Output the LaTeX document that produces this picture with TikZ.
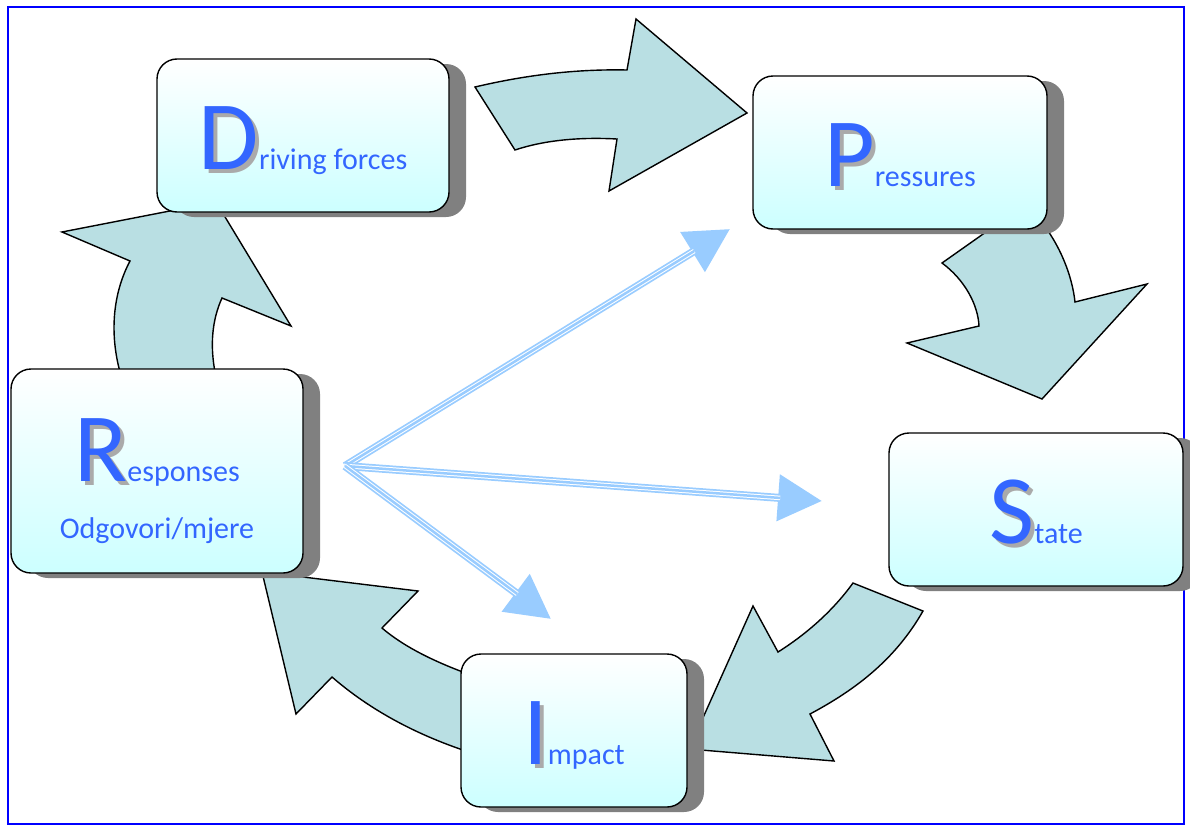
\documentclass[tikz,border=0pt]{standalone}
\usepackage{fontspec}
\setmainfont{Carlito}
\usetikzlibrary{arrows.meta, shadows}

\definecolor{arrowfill}{RGB}{185,223,227}
\definecolor{boxcyan}{RGB}{204,255,255}
\definecolor{boxshadow}{RGB}{128,128,128}
\definecolor{letterblue}{RGB}{51,102,255}
\definecolor{lettershade}{RGB}{170,170,170}
\definecolor{linkblue}{RGB}{153,204,255}

\newcommand{\firstletter}[1]{{\fontsize{98}{100}\selectfont\makebox[0pt][l]{\kern4pt\raisebox{-4pt}{\color{lettershade}#1}}\color{letterblue}#1}}
\newcommand{\restword}[1]{{\color{letterblue}#1}}

\tikzset{
    blockarrow/.style={fill=arrowfill, draw=black, line width=1.4pt, line join=miter},
    tripleline/.style={draw=linkblue, line width=8pt, -{Triangle[length=44pt, width=45pt]},
        postaction={draw=white, line width=4.5pt, shorten >=42pt, -},
        postaction={draw=linkblue, line width=2.5pt, shorten >=42pt, -}}
}

\begin{document}
\begin{tikzpicture}[x=1pt, y=-1pt]
\useasboundingbox (0,0) rectangle (1190,827);
\draw [blue, line width=1.8pt] (8,7) rectangle (1184,824);

% % block arrows of the cycle
\path [blockarrow] (475,87) .. controls (530,74) and (580,69) .. (627,70) -- (636,19) -- (747,113)
    -- (609,191) -- (617,139) .. controls (580,137) and (545,140) .. (515,150) -- cycle;
\path [blockarrow] (1040,220) .. controls (1060,245) and (1072,275) .. (1075,302) -- (1147,284) -- (1042,399)
    -- (907,343) -- (979,326) .. controls (978,305) and (965,280) .. (942,263) -- (1003,220) -- cycle;
\path [blockarrow] (853,583) -- (923,611) .. controls (895,660) and (855,690) .. (810,714) -- (834,761)
    -- (689,749) -- (753,606) -- (778,652) .. controls (805,635) and (832,612) .. (853,583) -- cycle;
\path [blockarrow] (485,680) .. controls (450,668) and (410,652) .. (382,628) -- (418,591) -- (262,572)
    -- (296,714) -- (332,677) .. controls (370,710) and (420,738) .. (485,757) -- cycle;
\path [blockarrow] (120,372) .. controls (110,335) and (112,295) .. (130,261) -- (62,232) -- (216,202)
    -- (291,326) -- (222,298) .. controls (212,320) and (210,345) .. (215,372) -- cycle;

\begin{scope}[
    every node/.style={rounded corners=20pt, draw=black, line width=1.4pt,
        top color=white, bottom color=boxcyan, minimum height=153pt, inner sep=0pt,
        drop shadow={shadow xshift=17pt, shadow yshift=-5pt, fill=boxshadow, opacity=1},
        font=\fontsize{30}{36}\selectfont, text height=68pt, text depth=0pt}]
    \node (D) at (303,135.5) [minimum width=292pt] {\firstletter{D}\restword{riving forces}};

    \node (P) at (900,152.5) [minimum width=294pt] {\firstletter{P}\restword{ressures}};

    \node (S) at (1036,509.5) [minimum width=294pt] {\firstletter{S}\restword{tate}};

    \node (I) at (574,730.5) [minimum width=226pt] {\firstletter{I}\restword{mpact}};

    % % the responses box is taller
    \node (R) at (157,471) [minimum width=292pt, minimum height=204pt, align=center, text height=134pt]
        {\firstletter{R}\restword{esponses}\\[21pt]\restword{Odgovori/mjere}};
\end{scope}

\coordinate (hub) at (345,466);
\coordinate (toP) at (730,229);
\coordinate (toS) at (822,501);
\coordinate (toI) at (551,619);

\draw [tripleline] (hub) -- (toP);
\draw [tripleline] (hub) -- (toS);
\draw [tripleline] (hub) -- (toI);
\end{tikzpicture}
\end{document}
